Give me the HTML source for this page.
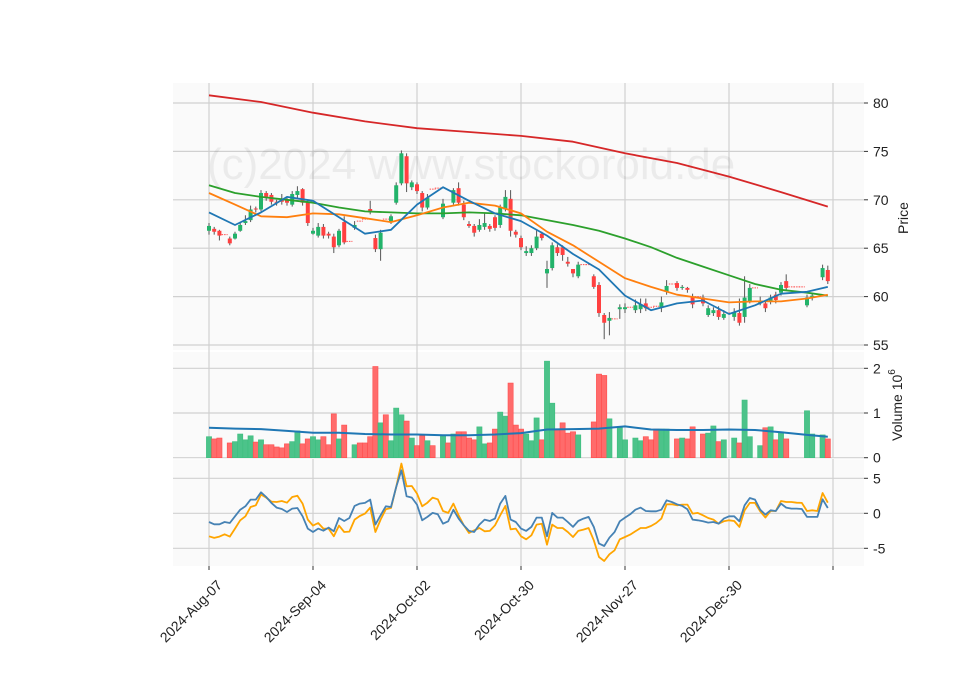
<!DOCTYPE html>
<html><head><meta charset="utf-8"><style>
body{margin:0;background:#fff}
svg{display:block;font-family:"Liberation Sans","DejaVu Sans",sans-serif}
</style></head><body>
<svg id="chart" width="960" height="690" viewBox="0 0 960 690" xmlns="http://www.w3.org/2000/svg">
<rect x="0" y="0" width="960" height="690" fill="#fff"/>
<g id="bg"></g>
<text x="207" y="179" font-size="44" fill="#000" fill-opacity="0.06">(c)2024 www.stockoroid.de</text>
<g id="marks"></g>
<g id="axes"></g>
<text transform="translate(908,218) rotate(-90)" text-anchor="middle" font-size="14" fill="#222">Price</text>
<text transform="translate(902,405) rotate(-90)" text-anchor="middle" font-size="14" fill="#222">Volume  10<tspan dy="-7" font-size="10">6</tspan></text>
</svg>
<script>
const dateLabels=["2024-Aug-07","2024-Sep-04","2024-Oct-02","2024-Oct-30","2024-Nov-27","2024-Dec-30",""];
const tickIdx=[0,20,40,60,80,100,120];
const priceTicks=[55,60,65,70,75,80];
const volTicks=[0,1,2];
const oscTicks=[-5,0,5];
const O=[66.8,67.0,66.8,66.4,66.0,66.0,66.8,67.6,67.9,69.1,69.0,70.7,70.5,69.8,70.1,70.0,69.5,70.5,71.1,69.8,66.5,66.3,67.2,66.5,66.2,65.3,67.7,65.7,67.1,67.8,68.0,69.05,66.05,64.9,68.0,67.7,69.7,71.7,74.5,71.3,71.6,70.7,69.2,71.1,71.2,68.2,69.3,69.7,71.2,69.5,67.5,67.3,66.9,67.2,67.3,68.2,67.4,69.0,70.1,66.7,66.05,64.5,64.5,65.0,66.5,62.4,62.95,65.1,65.1,63.6,62.85,62.1,63.3,63.3,62.1,61.2,58.1,57.5,57.7,58.7,58.7,58.9,58.6,58.7,59.3,58.9,59.0,58.9,60.5,61.3,61.4,60.9,60.9,60.0,60.0,59.9,58.1,58.3,58.6,57.8,58.3,57.9,58.3,57.9,59.55,60.9,59.3,59.3,59.45,60.2,60.4,61.6,61.0,61.0,61.0,59.1,59.9,null,62.0,62.75];
const C=[67.3,66.7,66.3,66.4,65.5,66.5,67.4,67.8,69.0,69.0,70.7,70.3,69.8,69.7,69.8,69.7,70.6,70.9,69.7,67.6,66.8,67.2,66.3,66.3,65.1,66.8,65.6,65.7,67.4,67.8,68.0,68.7,64.9,66.6,68.0,68.3,71.5,74.8,71.7,71.8,70.9,69.2,70.2,71.1,71.2,69.6,69.3,71.0,69.7,68.2,67.3,66.6,67.4,67.6,67.0,67.1,69.2,70.3,66.8,66.4,65.1,64.7,65.0,66.2,66.05,62.85,65.3,64.5,64.3,63.4,62.4,63.3,63.3,63.3,61.0,58.3,57.3,57.8,57.7,58.9,58.9,58.9,59.1,59.2,58.8,58.9,59.0,59.4,61.1,61.3,60.9,61.0,60.7,59.2,60.0,59.3,58.8,58.6,57.9,58.2,58.3,58.4,57.3,59.9,60.9,60.9,59.55,58.8,59.9,59.65,61.2,60.9,61.0,61.0,61.0,59.9,60.1,null,62.95,61.6];
const H=[67.6,67.2,66.9,66.4,66.2,66.7,67.7,68.4,69.4,69.3,71.0,70.9,70.7,70.0,70.6,70.2,70.9,71.4,71.2,70.0,67.1,67.6,67.5,66.7,66.5,67.0,68.3,65.7,67.8,67.8,68.0,69.9,66.4,66.9,68.0,68.5,71.8,75.1,74.8,72.0,71.8,70.9,70.6,71.1,71.2,70.1,69.3,71.2,71.8,69.9,67.8,67.5,68.0,68.6,67.5,68.4,69.5,71.0,71.0,66.9,66.3,65.2,65.3,66.9,66.7,63.7,65.6,65.4,65.3,64.1,62.6,63.6,63.3,63.3,62.3,61.5,58.3,58.4,57.7,59.2,59.3,58.9,59.7,59.8,59.8,58.9,59.0,60.0,61.7,61.3,61.6,61.2,61.0,60.3,60.0,60.2,59.1,58.9,59.0,58.6,58.3,58.8,59.8,62.1,61.3,60.9,60.0,59.5,60.2,60.5,61.5,62.3,61.0,61.0,61.0,60.2,60.4,null,63.3,63.2];
const L=[66.4,66.4,65.8,66.4,65.3,65.9,66.7,67.4,67.7,68.7,68.8,69.9,69.5,69.4,69.5,69.4,69.3,70.2,69.4,67.3,66.4,66.1,66.0,66.0,64.5,65.1,65.4,65.7,66.9,67.8,68.0,68.5,64.6,63.7,68.0,67.5,69.5,71.5,70.8,71.0,70.6,68.8,69.0,71.1,71.2,68.0,69.3,69.5,69.4,67.9,67.1,66.2,66.7,66.9,66.7,66.8,67.1,68.8,66.2,66.1,64.8,64.2,64.2,64.8,65.8,60.9,62.7,64.2,63.7,63.1,62.0,61.9,63.3,63.3,60.8,57.9,55.6,56.0,57.7,57.7,58.3,58.9,58.3,58.3,58.5,58.9,59.0,58.4,60.2,61.3,60.6,60.7,60.4,58.8,60.0,59.0,57.9,58.0,57.6,57.6,58.3,57.5,57.0,57.3,59.3,60.9,59.1,58.4,59.2,59.3,60.1,60.6,61.0,61.0,61.0,58.9,59.6,null,61.7,61.3];
const V=[0.47,0.42,0.44,0,0.33,0.36,0.53,0.40,0.49,0.35,0.40,0.29,0.29,0.24,0.22,0.31,0.36,0.60,0.31,0.42,0.47,0.40,0.47,0.29,0.98,0.42,0.73,0,0.29,0.33,0.33,0.47,2.04,0.78,0.96,0.38,1.11,0.96,0.82,0.44,0.27,0.49,0.38,0.27,0,0.49,0.33,0.53,0.58,0.58,0.44,0.40,0.69,0.31,0.33,0.64,1.02,0.93,1.67,0.73,0.64,0.53,0.38,0.89,0.40,2.16,1.22,0.64,0.78,0.55,0.58,0.51,0,0,0.80,1.87,1.84,0.87,0,0.69,0.40,0,0.44,0.38,0.47,0.40,0.64,0.64,0.64,0,0.42,0.44,0.42,0.69,0,0.53,0.55,0.71,0.36,0.40,0,0.44,0.33,1.29,0.47,0,0.27,0.67,0.69,0.40,0.58,0.42,0,0,0,1.05,0.53,0,0.51,0.42];
const oscBlue=[-1.24,-1.57,-1.57,-1.24,-1.38,-0.43,0.52,1.0,1.95,1.95,3.0,2.33,1.48,0.81,0.62,0.19,0.67,0.76,-0.43,-2.19,-2.67,-2.19,-2.48,-2.05,-2.57,-0.67,-1.1,-0.67,1.05,1.38,1.48,1.95,-1.62,-0.29,1.0,0.9,3.76,6.14,2.43,2.24,1.24,-1.0,-0.52,0.05,-0.14,-1.48,-1.14,0.52,-0.76,-1.71,-2.52,-2.67,-1.62,-0.9,-1.1,-0.76,1.38,2.48,-0.9,-1.24,-2.19,-2.52,-1.95,-0.62,-0.62,-3.29,0.05,-0.62,-0.62,-1.24,-1.95,-1.1,-0.76,-0.52,-1.95,-4.33,-4.67,-3.48,-2.67,-1.14,-0.62,-0.14,0.52,0.81,0.33,0.29,0.29,0.52,1.86,1.62,1.29,1.05,0.57,-0.9,-1.0,-1.14,-1.33,-1.24,-1.48,-0.76,-0.43,-0.43,-1.14,1.14,2.19,1.95,0.52,-0.19,0.43,0.33,1.38,0.81,0.67,0.67,0.62,-0.52,-0.52,-0.52,2.0,0.76];
const oscOrange=[-3.29,-3.52,-3.33,-3.0,-3.33,-2.19,-1.0,-0.43,0.9,1.14,2.67,2.24,1.67,1.62,1.76,1.52,2.33,2.52,1.38,-0.9,-1.76,-1.38,-2.19,-2.19,-3.29,-1.76,-2.67,-2.62,-0.9,-0.38,-0.05,0.81,-2.67,-0.9,0.57,0.76,3.76,7.1,3.86,3.9,2.81,1.0,1.52,2.24,2.0,0.33,0.05,1.38,-0.29,-1.71,-2.81,-2.43,-2.1,-2.57,-2.52,-1.71,-0.29,1.05,-2.29,-2.19,-3.29,-3.71,-3.14,-1.62,-1.48,-4.48,-1.62,-2.1,-2.1,-2.67,-3.38,-2.52,-2.33,-2.1,-3.86,-6.24,-6.81,-5.86,-5.29,-3.71,-3.38,-3.05,-2.57,-2.1,-2.1,-1.81,-1.38,-0.76,1.29,1.29,1.14,1.24,1.24,-0.05,0.05,-0.29,-0.67,-0.9,-1.48,-1.14,-1.0,-1.1,-1.95,0.43,1.48,1.48,0.29,-0.62,0.33,0.33,1.76,1.62,1.62,1.52,1.48,0.33,0.43,0.33,2.9,1.52];
const maIdx=[0,5,10,15,20,25,30,35,40,45,50,55,60,65,70,75,80,85,90,95,100,105,110,115,119];
const maBlue=[68.7,67.4,68.7,70.3,69.9,68.2,66.5,66.9,69.5,71.3,69.9,68.6,67.8,66.3,64.4,62.8,60.1,58.6,59.3,59.6,58.2,59.1,60.3,60.5,61.0];
const maOrange=[70.7,69.5,68.3,68.2,68.6,68.5,68.1,67.7,68.4,69.2,69.7,69.4,68.6,66.7,65.3,63.6,61.9,61.0,60.2,59.8,59.4,59.5,59.5,59.8,60.2];
const maGreen=[71.5,70.7,70.3,70.0,69.7,69.2,68.8,68.7,68.6,68.6,68.7,68.6,68.4,67.9,67.4,66.8,66.0,65.1,64.0,63.1,62.2,61.3,60.7,60.4,60.1];
const maRedIdx=[0,10,20,30,40,50,60,70,80,90,100,110,119];
const maRed=[80.8,80.1,79.0,78.1,77.4,77.0,76.6,76.0,74.8,73.8,72.4,70.8,69.3];
const volMa=[0.67,0.65,0.64,0.60,0.56,0.56,0.53,0.52,0.52,0.50,0.50,0.52,0.55,0.63,0.64,0.65,0.70,0.63,0.62,0.62,0.63,0.62,0.57,0.51,0.47];

const NS="http://www.w3.org/2000/svg";
const X0=173,X1=864;
const P={top:83,bot:351},VP={top:351,bot:458},OP={top:459,bot:566};
const xs=i=>209+i*5.2;
const yp=p=>103+(80-p)*9.68;
const yv=v=>457.7-v*44.7;
const yo=o=>513.3-o*7;
function mk(tag,attrs,parent){const e=document.createElementNS(NS,tag);for(const k in attrs)e.setAttribute(k,attrs[k]);parent.appendChild(e);return e;}
const bg=document.getElementById('bg'),marks=document.getElementById('marks'),axes=document.getElementById('axes');
[[P,'price-panel'],[VP,'volume-panel'],[OP,'oscillator-panel']].forEach(([p,n])=>{
  const r=mk('rect',{x:X0,y:p.top,width:X1-X0,height:p.bot-p.top,fill:'#fafafa'},bg);
  
  
});
mk('line',{x1:X0,x2:X1,y1:351,y2:351,stroke:'#fff','stroke-width':2},bg);
mk('line',{x1:X0,x2:X1,y1:458.5,y2:458.5,stroke:'#fff','stroke-width':1.5},bg);
tickIdx.forEach(t=>{[P,VP,OP].forEach(p=>mk('line',{x1:xs(t),x2:xs(t),y1:p.top,y2:p.bot,stroke:'#d0d0d0','stroke-width':1.2},bg));});
function yGrid(ticks,f,name){ticks.forEach(t=>{const y=f(t);
  mk('line',{x1:X0,x2:X1,y1:y,y2:y,stroke:'#d0d0d0','stroke-width':1.2},bg);
  mk('line',{x1:X1,x2:X1+4,y1:y,y2:y,stroke:'#333','stroke-width':1},axes);
  const tx=mk('text',{x:X1+9,y:y+5,'font-size':14,fill:'#222'},axes);tx.textContent=t;
  
  
});}
yGrid(priceTicks,yp,'price-tick-label');
yGrid(volTicks,yv,'volume-tick-label');
yGrid(oscTicks,yo,'oscillator-tick-label');
tickIdx.forEach((t,k)=>{const x=xs(t);
  mk('line',{x1:x,x2:x,y1:OP.bot,y2:OP.bot+4,stroke:'#333','stroke-width':1},axes);
  const tx=mk('text',{transform:`translate(${x+14},${OP.bot+20}) rotate(-45)`,'text-anchor':'end','font-size':14,fill:'#222'},axes);
  tx.textContent=dateLabels[k];
  
  
});
V.forEach((v,i)=>{if(!v)return;const up=C[i]!=null&&C[i]>O[i];
  const r=mk('rect',{x:xs(i)-2.6,y:yv(v),width:5.2,height:yv(0)-yv(v),fill:up?'#4cc38a':'#ff6b6b',stroke:up?'#3dbf7f':'#ff4d4d','stroke-width':0.6},marks);
  
  
});
function line(idx,vals,f,color,w,name){const pts=vals.map((v,k)=>xs(idx[k]).toFixed(1)+','+f(v).toFixed(1)).join(' ');
  const pl=mk('polyline',{points:pts,fill:'none',stroke:color,'stroke-width':w,'stroke-linejoin':'round'},marks);
  
  
}
line(maIdx,volMa,yv,'#1f77b4',2,'volume-ma-line');
O.forEach((o,i)=>{if(o==null)return;const c=C[i],x=xs(i);
  if(Math.abs(o-c)<0.01){const d=mk('line',{x1:x-3,x2:x+3,y1:yp(c),y2:yp(c),stroke:'#ff4d4d','stroke-width':1,'stroke-dasharray':'1.5,1'},marks);
    
    return;}
  const up=c>o,col=up?'#22b36a':'#ff4040';
  const w=mk('line',{x1:x,x2:x,y1:yp(H[i]),y2:yp(L[i]),stroke:'#555','stroke-width':1},marks);
  
  
  const top=yp(Math.max(o,c)),bot=yp(Math.min(o,c));
  const b=mk('rect',{x:x-2,y:top,width:4,height:Math.max(1,bot-top),fill:col},marks);
  
  
});
line(maRedIdx,maRed,yp,'#d62728',1.8,'ma200-line');
line(maIdx,maGreen,yp,'#2ca02c',1.8,'ma50-line');
line(maIdx,maOrange,yp,'#ff7f0e',1.8,'ma20-line');
line(maIdx,maBlue,yp,'#1f77b4',1.8,'ma10-line');
const allIdx=oscBlue.map((_,i)=>i);
line(allIdx,oscOrange,yo,'#ffa500',1.8,'oscillator-signal-line');
line(allIdx,oscBlue,yo,'#4682b4',1.8,'oscillator-line');
</script>
</body></html>
